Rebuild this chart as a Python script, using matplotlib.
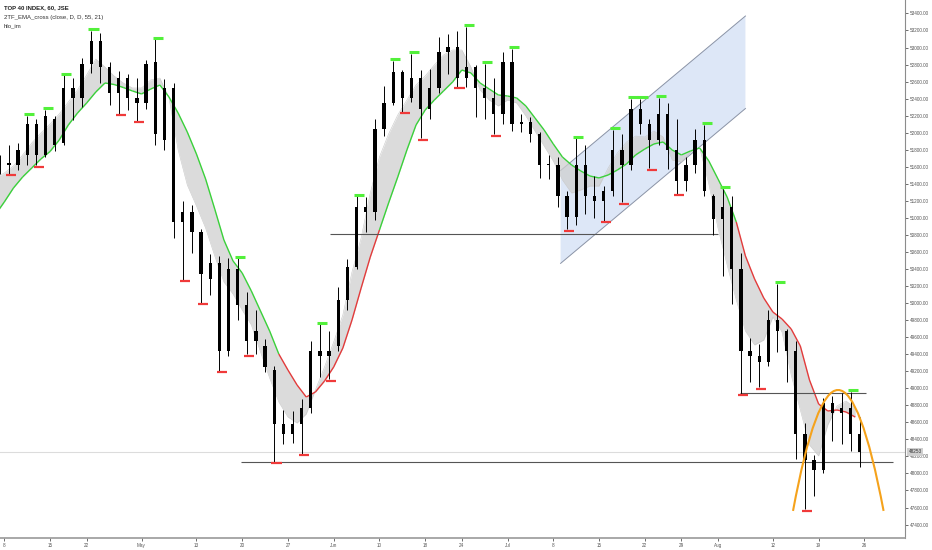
import numpy as np
import matplotlib.pyplot as plt
from matplotlib.path import Path
from matplotlib.patches import PathPatch, Polygon
from matplotlib.collections import LineCollection

# daily OHLC, day index -1 = Apr 5
first_day = -1
opens = [51617, 51641, 51617, 51738, 52102, 51738, 52163, 51884, 52527, 52406,
         52806, 53073, 52770, 52466, 52648, 52406, 52345, 52830, 51920, 52527,
         50950, 51071, 50829, 50283, 50465, 49434, 50404, 49980, 49555, 49494,
         49215, 48585, 48463, 48585, 48767, 49434, 49373, 49494, 50040, 50428,
         51132, 51071, 52042, 52345, 52709, 52406, 52648, 52284, 52527, 52951,
         53012, 52648, 52770, 52527, 52406, 52224, 52830, 52102, 52127, 51981,
         51617, 51617, 51253, 51011, 51617, 51253, 51193, 51314, 51799, 51617,
         52284, 52102, 51920, 52224, 51799, 51435, 51617, 51920, 51253, 50986,
         51132, 50404, 49434, 49373, 49312, 49798, 49676, 49434, 48463, 48160,
         48039, 48827, 48706, 48767, 48463]
highs = [51738, 51860, 51884, 52199, 52163, 52272, 52199, 52673, 52648, 52879,
         53194, 53170, 52830, 52721, 52685, 52648, 52855, 53097, 52636, 52588,
         51193, 51156, 50865, 50574, 50550, 50525, 50525, 50125, 49919, 49579,
         49260, 48742, 48730, 48876, 49555, 49749, 49676, 50186, 50513, 51253,
         51241, 52163, 52551, 52842, 52733, 52927, 52733, 52745, 53121, 53158,
         53194, 53243, 52794, 52806, 52648, 52951, 52988, 52224, 52187, 52005,
         51738, 51714, 51314, 51933, 51860, 51496, 51375, 52030, 51981, 52394,
         52394, 52163, 52406, 52345, 52163, 51714, 52042, 52090, 51278, 51338,
         51253, 50586, 49591, 49519, 49919, 50222, 49701, 49555, 48597, 48221,
         48888, 48912, 48949, 48961, 48657]
lows = [51520, 51520, 51557, 51617, 51617, 51714, 51787, 51860, 52151, 52296,
        52697, 52588, 52321, 52224, 52272, 52139, 52284, 51860, 51799, 50768,
        50271, 50586, 50004, 50089, 49203, 49373, 49798, 49397, 49397, 49191,
        48136, 48342, 48354, 48233, 48706, 49131, 49106, 49434, 49919, 50404,
        50829, 50974, 51957, 52321, 52248, 52357, 51933, 52163, 52466, 52685,
        52539, 52539, 52187, 52163, 51981, 52102, 52018, 52005, 51896, 51472,
        51460, 51132, 50865, 50914, 51047, 50999, 50962, 51253, 51181, 51557,
        51981, 51581, 51860, 51569, 51278, 51314, 51532, 51253, 50804, 50319,
        49992, 48936, 49070, 49009, 49264, 49422, 49070, 48172, 47578, 47736,
        48002, 48378, 48342, 48269, 48075]
closes = [51678, 51617, 51799, 52102, 51738, 52199, 51860, 52527, 52406, 52806,
          53073, 52770, 52466, 52648, 52406, 52345, 52806, 51981, 52527, 50950,
          51071, 50829, 50344, 50465, 49434, 50404, 49980, 49555, 49676, 49252,
          48585, 48463, 48585, 48767, 49434, 49373, 49434, 50040, 50428, 51132,
          51071, 52042, 52345, 52709, 52406, 52648, 52284, 52527, 52951, 53012,
          52648, 52770, 52527, 52406, 52224, 52830, 52102, 52127, 51981, 51617,
          51630, 51253, 51011, 51617, 51253, 51193, 51314, 51799, 51617, 52284,
          52102, 51920, 52224, 51799, 51435, 51617, 51920, 51314, 50986, 51132,
          50404, 49434, 49373, 49312, 49798, 49676, 49434, 48463, 48160, 48039,
          48827, 48706, 48767, 48463, 48257]

# 2TF_EMA_cross: slow (coloured) and fast line, one value per day
ema_slow = [51034, 51187, 51351, 51480, 51586, 51692, 51780, 51914, 52091, 52231,
            52349, 52478, 52584, 52566, 52531, 52490, 52455, 52513, 52560, 52419,
            52231, 52008, 51750, 51457, 51104, 50741, 50494, 50353, 50142, 49907,
            49672, 49402, 49214, 49038, 48897, 48956, 49085, 49250, 49472, 49801,
            50177, 50541, 50858, 51175, 51480, 51797, 52091, 52267, 52384, 52490,
            52596, 52736, 52701, 52584, 52513, 52443, 52431, 52408, 52314, 52173,
            52032, 51868, 51715, 51621, 51551, 51492, 51469, 51504, 51562, 51633,
            51739, 51809, 51868, 51891, 51797, 51739, 51786, 51821, 51668, 51457,
            51245, 50952, 50553, 50283, 50060, 49895, 49813, 49696, 49496, 49097,
            48815, 48733, 48745, 48721, 48662]
ema_fast = [51468, 51527, 51609, 51738, 51879, 51997, 52102, 52220, 52361, 52502,
            52678, 52865, 52771, 52666, 52584, 52525, 52525, 52619, 52642, 52408,
            51797, 51386, 51140, 50881, 50553, 50248, 50106, 49919, 49743, 49426,
            49120, 48839, 48662, 48592, 48698, 48980, 49250, 49543, 49860, 50365,
            50764, 51292, 51715, 51985, 52208, 52384, 52560, 52666, 52795, 52912,
            52971, 52971, 52771, 52502, 52384, 52314, 52384, 52349, 52197, 52020,
            51844, 51668, 51445, 51292, 51327, 51374, 51374, 51586, 51762, 51891,
            51961, 51950, 52020, 51950, 51680, 51656, 51774, 51821, 51398, 50881,
            50447, 50036, 49672, 49508, 49566, 49836, 49660, 49156, 48745, 48334,
            48205, 48569, 48792, 48850, 48768]
slow_turns = [29.6, 40.8, 79.6]   # green -> red -> green -> red

# drawings
levels = [(50810, 35.6, 78.0), (48950, 80.4, 94.2), (48140, 25.9, 97.1)]
chan_x = (60.8, 81.0)
chan_top = (51556, 53370)
chan_bot = (50466, 52284)
arc_x = (86.2, 91.1, 96.1)
arc_p = (47560, 50400, 47560)
last_price = 48253

tick_days = [0, 5, 9, 15, 21, 26, 31, 36, 41, 46, 50, 55, 60, 65, 70, 74, 78, 84, 89, 94]
tick_labels = ['8', '15', '22', 'May', '13', '20', '27', 'Jun', '10', '18', '24',
               'Jul', '8', '15', '22', '29', 'Aug', '12', '19', '26']
price_ticks = np.arange(47400, 53401, 200)

plt.rcParams['font.family'] = ['Liberation Sans', 'DejaVu Sans']

fig = plt.figure(figsize=(9.32, 5.5), dpi=100)
ax = fig.add_axes([0, 12 / 550, 905 / 932, 538 / 550])
ax.set_xlim(-0.47, 98.44)
ax.set_ylim(47242, 53558)

days = np.arange(first_day, first_day + len(opens))
o, h, l, c = map(np.array, (opens, highs, lows, closes))
mid = days + 0.5

# channel
ax.add_patch(Polygon([(chan_x[0], chan_bot[0]), (chan_x[1], chan_bot[1]),
                      (chan_x[1], chan_top[1]), (chan_x[0], chan_top[0])],
                     closed=True, facecolor='#dde7f7', edgecolor='none', zorder=1))
ax.plot(chan_x, chan_top, color='#8a93a6', lw=0.7, zorder=2)
ax.plot(chan_x, chan_bot, color='#8a93a6', lw=0.7, zorder=2)

# ema band
ax.fill_between(days, ema_slow, ema_fast, color='#cfcfcf', alpha=0.75, lw=0, zorder=2)
ax.plot(days, ema_fast, color='#c8c8c8', lw=0.4, zorder=2)
pts = np.column_stack([days, ema_slow])
segs = np.stack([pts[:-1], pts[1:]], axis=1)
regime = np.searchsorted(slow_turns, days[:-1] + 0.5)
seg_cols = ['#3ad13a' if r % 2 == 0 else '#e33b3b' for r in regime]
ax.add_collection(LineCollection(segs, colors=seg_cols, linewidths=1.0, zorder=3))

# horizontal levels and last price line
for lev, x0, x1 in levels:
    ax.hlines(lev, x0, x1, color='#555555', lw=0.8, zorder=3)
ax.axhline(last_price, color='#dcdcdc', lw=0.8, zorder=1)

# candles
ax.vlines(mid, l, h, color='black', lw=0.7, zorder=4)
body_lo = np.minimum(o, c)
body_h = np.maximum(np.abs(c - o), 10)
ax.bar(mid, body_h, bottom=body_lo, width=0.36, color='black', zorder=5)

# hlo_im pivot markers
for k in range(1, len(days) - 1):
    if h[k] >= h[k - 1] and h[k] >= h[k + 1]:
        ax.hlines(h[k] + 20, days[k] + 0.2, days[k] + 1.3, color='#52f03a', lw=2.2, zorder=6)
    if l[k] <= l[k - 1] and l[k] <= l[k + 1]:
        ax.hlines(l[k] - 15, days[k] + 0.2, days[k] + 1.3, color='#f03a3a', lw=1.6, zorder=6)

# orange arc
arc = Path(list(zip(arc_x, arc_p)), [Path.MOVETO, Path.CURVE3, Path.CURVE3])
ax.add_patch(PathPatch(arc, facecolor='none', edgecolor='#f5a21b', lw=1.5, zorder=7))

# axes styling
for s in ('top', 'left'):
    ax.spines[s].set_visible(False)
ax.spines['right'].set_color('#8c8c8c')
ax.spines['bottom'].set_color('#9a9a9a')
ax.spines['bottom'].set_linewidth(1.2)
ax.yaxis.tick_right()
ax.set_yticks(price_ticks)
ax.set_yticklabels([f'{p:.2f}' for p in price_ticks])
ax.set_xticks(tick_days)
ax.set_xticklabels(tick_labels)
ax.tick_params(axis='both', labelsize=3.3, colors='#555555', length=2, width=0.6, pad=1.5)

ax.text(1.004, last_price, f'{last_price}', transform=ax.get_yaxis_transform(),
        fontsize=3.3, color='#333333', va='center', ha='left',
        bbox=dict(boxstyle='square,pad=0.25', facecolor='#cfcfcf', edgecolor='none'))

fig.text(4 / 932, 1 - 8 / 550, 'TOP 40 INDEX, 60, JSE', fontsize=4.3, fontweight='bold',
         color='#222222', va='center')
fig.text(4 / 932, 1 - 17 / 550, '2TF_EMA_cross (close, D, D, 55, 21)', fontsize=4.3,
         color='#333333', va='center')
fig.text(4 / 932, 1 - 26 / 550, 'hlo_im', fontsize=4.3, color='#333333', va='center')

fig.savefig('out.png', dpi=100)
